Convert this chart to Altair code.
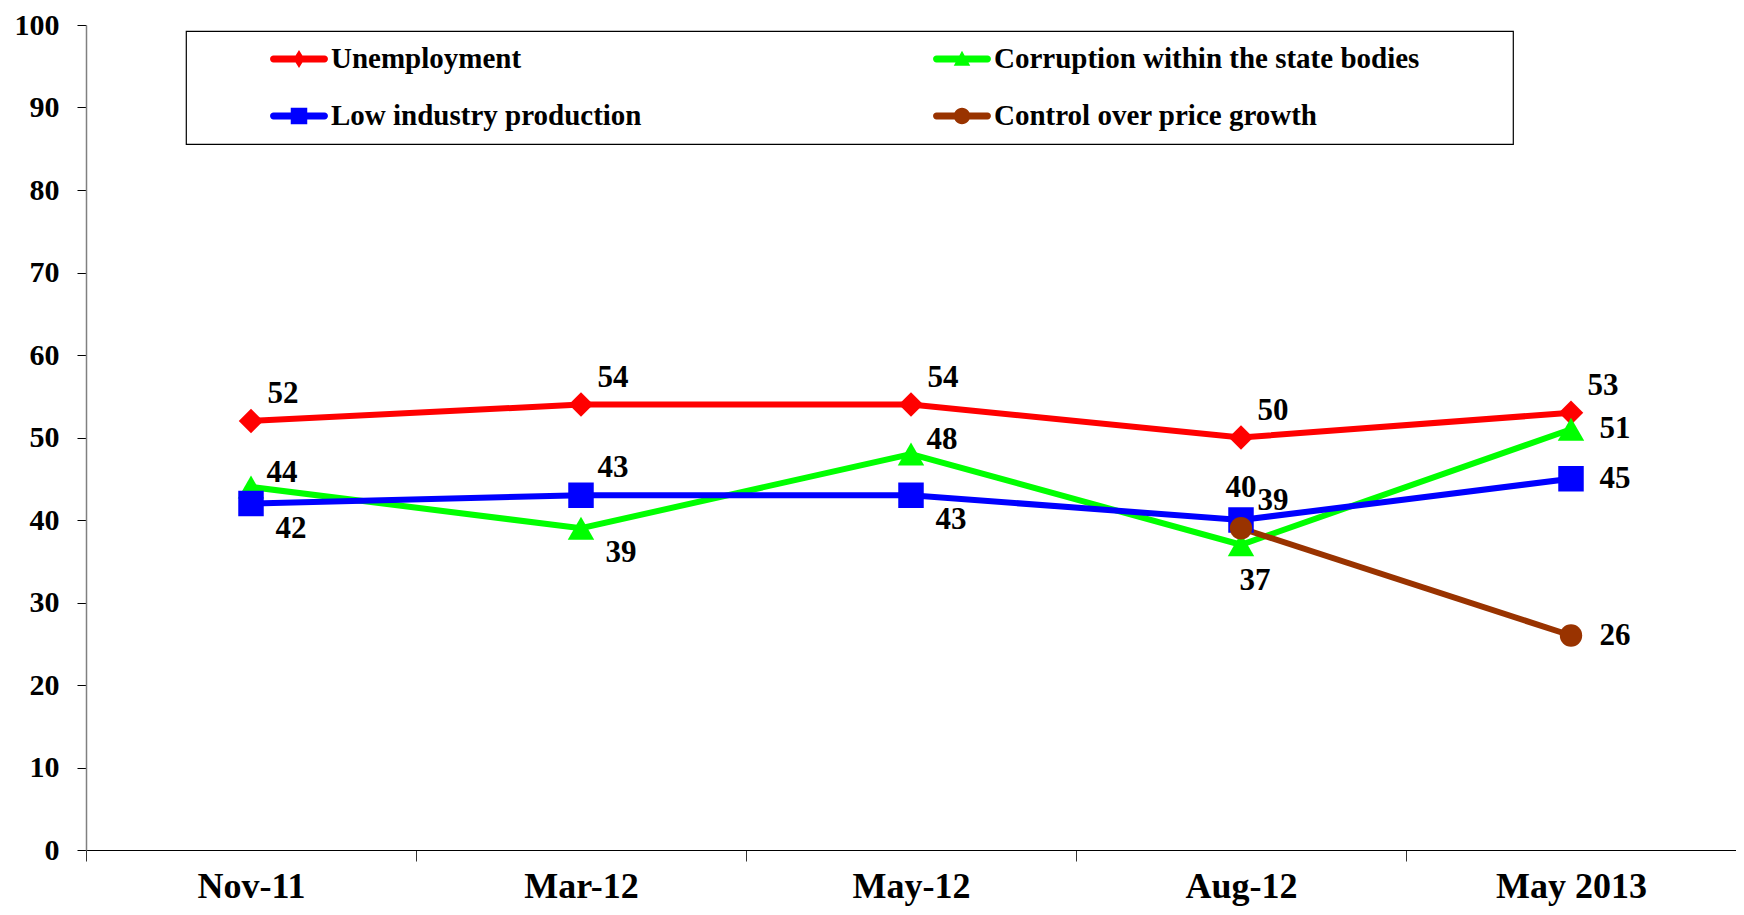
import altair as alt
import pandas as pd

# ---- data ----
categories = ["Nov-11", "Mar-12", "May-12", "Aug-12", "May 2013"]
series_names = [
    "Unemployment",
    "Corruption within the state bodies",
    "Low industry production",
    "Control over price growth",
]
unemployment = [52, 54, 54, 50, 53]
corruption = [44, 39, 48, 37, 51]
low_industry = [42, 43, 43, 40, 45]
price_control = [None, None, None, 39, 26]

# label placement names (style), one per point
unemployment_pos = ["ne", "ne", "ne", "ne", "ne"]
corruption_pos = ["ene", "se", "ene", "s", "e"]
low_industry_pos = ["se", "ne", "se", "n", "e"]
price_control_pos = [None, None, None, "ne", "e"]

# ---- styles ----
colors = ["#FF0000", "#00FF00", "#0000FF", "#993300"]
shapes = ["diamond", "triangle-up", "square", "circle"]
sizes = [600, 700, 650, 500]
anchors = {
    "ne": (32, -27),
    "ene": (31, -14),
    "se": (40, 25),
    "e": (44, 0),
    "s": (14, 36),
    "n": (0, -32),
}
# legend symbol: a thick line with the marker in its middle (unit = 15px)
bar = "M-1.7,-0.23 L1.7,-0.23 A0.23,0.23 0 0 1 1.7,0.23 L-1.7,0.23 A0.23,0.23 0 0 1 -1.7,-0.23 Z "
legend_path = {
    "Unemployment": bar + "M0,-0.6 L0.37,0 L0,0.6 L-0.37,0 Z",
    "Corruption within the state bodies": bar + "M0,-0.55 L0.55,0.45 L-0.55,0.45 Z",
    "Low industry production": bar + "M-0.55,-0.55 L0.55,-0.55 L0.55,0.55 L-0.55,0.55 Z",
    "Control over price growth": bar + "M-0.55,0 A0.55,0.55 0 1 1 0.55,0 A0.55,0.55 0 1 1 -0.55,0 Z",
}
color_of = dict(zip(series_names, colors))
# legend grid is filled column by column
legend_order = [series_names[0], series_names[2], series_names[1], series_names[3]]

FONT = "Liberation Serif"

rows = []
for name, vals, pos in zip(
    series_names,
    [unemployment, corruption, low_industry, price_control],
    [unemployment_pos, corruption_pos, low_industry_pos, price_control_pos],
):
    for i, (c, v, p) in enumerate(zip(categories, vals, pos)):
        rows.append({"series": name, "cat": c, "idx": i, "value": v, "anchor": p})
df = pd.DataFrame(rows)

x_enc = alt.X(
    "cat:N",
    sort=categories,
    scale=alt.Scale(type="band", domain=categories, paddingInner=0, paddingOuter=0),
    axis=alt.Axis(
        title=None,
        labelAngle=0,
        labelFont=FONT,
        labelFontSize=36,
        labelFontWeight="bold",
        labelColor="black",
        labelBaseline="alphabetic",
        labelPadding=36,
        tickBand="extent",
        tickSize=11,
        tickColor="#333333",
        domainColor="black",
        domainWidth=1.2,
        grid=False,
    ),
)
y_enc = alt.Y(
    "value:Q",
    scale=alt.Scale(domain=[0, 100], nice=False, zero=True),
    axis=alt.Axis(
        title=None,
        values=list(range(0, 101, 10)),
        labelFont=FONT,
        labelFontSize=30,
        labelFontWeight="bold",
        labelColor="black",
        labelPadding=18,
        tickSize=9,
        tickColor="black",
        domainColor="#808080",
        domainWidth=1.5,
        grid=False,
    ),
)

color_scale = alt.Scale(domain=series_names, range=colors)

base = alt.Chart(df)

lines = (
    base.transform_filter("isValid(datum.value)")
    .mark_line(strokeWidth=6)
    .encode(
        x=x_enc,
        y=y_enc,
        color=alt.Color("series:N", scale=color_scale, legend=None),
        order=alt.Order("idx:Q"),
    )
)

points = (
    base.transform_filter("isValid(datum.value)")
    .mark_point(filled=True, opacity=1, strokeWidth=0)
    .encode(
        x=x_enc,
        y=y_enc,
        color=alt.Color("series:N", scale=color_scale, legend=None),
        shape=alt.Shape("series:N", scale=alt.Scale(domain=series_names, range=shapes), legend=None),
        size=alt.Size("series:N", scale=alt.Scale(type="ordinal", domain=series_names, range=sizes), legend=None),
    )
)

text_layers = []
for a, (dx, dy) in anchors.items():
    text_layers.append(
        base.transform_filter(f"datum.anchor == '{a}'")
        .mark_text(
            dx=dx, dy=dy, font=FONT, fontSize=31, fontWeight="bold",
            color="black", align="center", baseline="middle",
        )
        .encode(x=x_enc, y=y_enc, text=alt.Text("value:Q"))
    )

pad_expr = "datum.label + '" + "\u00a0" * 11 + "\u200b'"
legend_layer = (
    base.transform_filter("false")
    .mark_point(filled=True, opacity=1, size=900, strokeWidth=0)
    .encode(
        x=x_enc,
        y=y_enc,
        color=alt.Color(
            "series:N",
            scale=alt.Scale(domain=legend_order, range=[color_of[s] for s in legend_order]),
            title="\u00a0",
            legend=alt.Legend(title="\u00a0", labelExpr=pad_expr),
        ),
        shape=alt.Shape(
            "series:N",
            scale=alt.Scale(domain=legend_order, range=[legend_path[s] for s in legend_order]),
            title="\u00a0",
            legend=alt.Legend(title="\u00a0", labelExpr=pad_expr),
        ),
    )
)

chart = (
    alt.layer(lines, points, *text_layers, legend_layer)
    .resolve_scale(color="independent", shape="independent")
    .properties(
        width=1650,
        height=825,
        autosize=alt.AutoSizeParams(type="none"),
        padding={"left": 78, "top": 17, "right": 0, "bottom": 57},
        background="white",
    )
    .configure_view(stroke=None)
    .configure_legend(
        orient="none",
        legendX=100,
        legendY=6,
        columns=2,
        strokeColor="black",
        strokeWidth=1.2,
        fillColor="white",
        padding=13,
        labelFont=FONT,
        labelFontSize=29,
        labelFontWeight="bold",
        labelColor="black",
        labelLimit=2000,
        labelOffset=17,
        symbolSize=900,
        symbolOffset=14,
        symbolStrokeWidth=0,
        symbolOpacity=1,
        columnPadding=211,
        rowPadding=27,
        titleOrient="left",
        titleFont=FONT,
        titleFontSize=29,
        titlePadding=71,
    )
)

chart.save("out.html", embed_options={"renderer": "svg", "actions": False})
